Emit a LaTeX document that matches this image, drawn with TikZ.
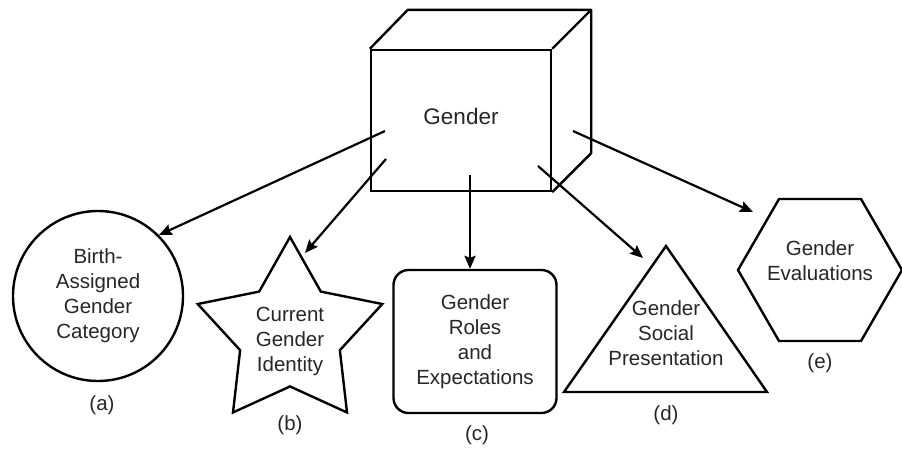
\documentclass[tikz,border=0pt]{standalone}
\usepackage{fontspec}
\setmainfont{Liberation Sans}
\usetikzlibrary{shapes.geometric,arrows.meta,calc}
\begin{document}
\begin{tikzpicture}[
        x=1pt, y=-1pt,
        every node/.style={text=black!85, align=center,
            font=\fontsize{20.5}{25}\selectfont},
        shp/.style={draw=black, line width=2.4pt, inner sep=0pt},
        arr/.style={-{Stealth[length=13pt,width=11pt,inset=2pt]}, line width=2.2pt},
        ]
    \useasboundingbox (0,0) rectangle (902,450);
    % the cube
    \node (gender) [shp, minimum width=180pt, minimum height=141pt,
        font=\fontsize{22.5}{26}\selectfont] at (461,120.5) {\raisebox{8pt}{Gender}};
    \draw[line width=2.4pt, line join=round] (gender.north west) -- ++(38,-39)
        -| ($(gender.south east)+(39,-39)$) -- (gender.south east);
    \draw[line width=2.4pt] (gender.north east) -- ++(39,-39);
    % the five parts
    \node (birth) [shp, circle, minimum size=170pt] at (98,296)
        {Birth-\\Assigned\\Gender\\Category};
    \node (ident) [shp, star, star points=5, star point ratio=1.85,
        minimum size=194pt,
        label={[yshift=-7pt]center:Current\\Gender\\Identity}] at (290,334) {};
    \node (roles) [shp, rectangle, rounded corners=15pt, minimum width=163pt,
        minimum height=143pt] at (475,341.5)
        {Gender\\Roles\\and\\Expectations};
    \node (social) at (666,333) {Gender\\Social\\Presentation};
    \draw[shp, line join=miter] ($(social)+(0,-87)$) -- ++(101,146) -- ++(-203,0) -- cycle;
    \node (evals) [shp, regular polygon, regular polygon sides=6,
        minimum size=164pt,
        label={[yshift=9pt]center:Gender\\Evaluations}] at (820,270) {};
    % tags
    \node (ta) at (102,405) {(a)};
    \node (tb) at (290,425) {(b)};
    \node (tc) at (477,435) {(c)};
    \node (td) at (666,415) {(d)};
    \node (te) at (820,363) {(e)};
    % arrows
    \coordinate (sa) at (385,131);
    \coordinate (sb) at (386,159);
    \coordinate (sc) at (470,175);
    \coordinate (sd) at (538,166);
    \coordinate (se) at (573,131);
    \coordinate (eb) at (305,253);
    \coordinate (ed) at (643,258);
    \coordinate (ee) at (753,212);
    \draw[arr] (sa) -- (birth.45);
    \draw[arr] (sb) -- (eb);
    \draw[arr] (sc) -- (sc |- roles.north);
    \draw[arr] (sd) -- (ed);
    \draw[arr] (se) -- (ee);
\end{tikzpicture}
\end{document}
